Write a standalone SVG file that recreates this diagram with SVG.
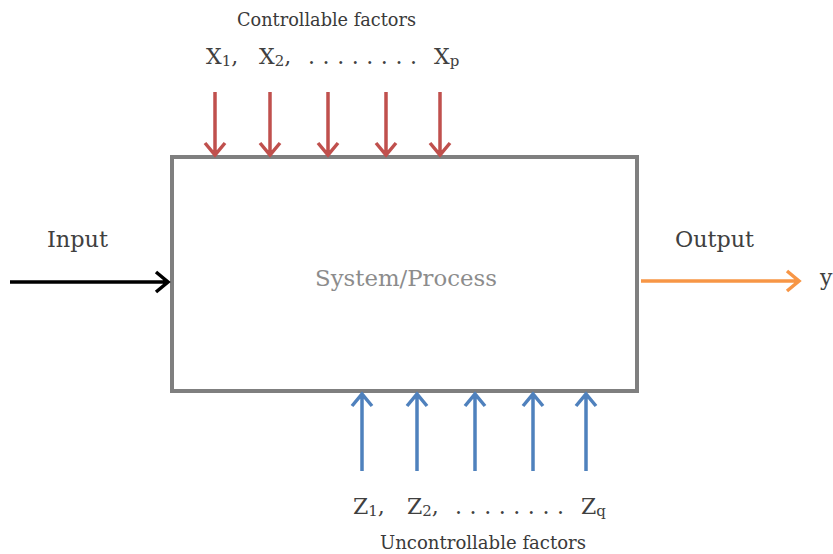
<svg xmlns="http://www.w3.org/2000/svg" width="833" height="554" viewBox="0 0 833 554">
<style>
text{font-family:"DejaVu Serif","Liberation Serif",serif;fill:#404040}
.lbl{font-size:18px;fill:#3a3a3a}
.var{font-size:22px}
.sub{font-size:15px}
.red{stroke:#c0504d;stroke-width:3.5;fill:none}
.blue{stroke:#4f81bd;stroke-width:3.5;fill:none}
</style>
<rect width="833" height="554" fill="#fff"/>
<g id="system">
<rect x="172" y="157" width="465" height="234" fill="#fff" stroke="#7f7f7f" stroke-width="4"/>
<text x="315" y="286" font-size="22" textLength="182" lengthAdjust="spacingAndGlyphs" style="fill:#8c8c8c">System/Process</text>
</g>
<g id="controllable">
<text class="lbl" x="237" y="26" textLength="179" lengthAdjust="spacingAndGlyphs">Controllable factors</text>
<text class="var" x="206" y="64">X<tspan class="sub" dy="2">1</tspan><tspan dy="-2">,</tspan></text>
<text class="var" x="259" y="64">X<tspan class="sub" dy="2">2</tspan><tspan dy="-2">,</tspan></text>
<text class="var" x="308" y="64" textLength="109" lengthAdjust="spacing">........</text>
<text class="var" x="434" y="64">X<tspan class="sub" dy="2">p</tspan></text>
</g>
<g id="uncontrollable">
<text class="var" x="353" y="514">Z<tspan class="sub" dy="2">1</tspan><tspan dy="-2">,</tspan></text>
<text class="var" x="407" y="514">Z<tspan class="sub" dy="2">2</tspan><tspan dy="-2">,</tspan></text>
<text class="var" x="455" y="514" textLength="109" lengthAdjust="spacing">........</text>
<text class="var" x="581" y="514">Z<tspan class="sub" dy="2">q</tspan></text>
<text class="lbl" x="380" y="549" textLength="206" lengthAdjust="spacingAndGlyphs">Uncontrollable factors</text>
</g>
<g id="input"><text x="47" y="247" font-size="22" textLength="61" lengthAdjust="spacingAndGlyphs">Input</text></g>
<g id="output"><text x="675" y="247" font-size="22" textLength="79" lengthAdjust="spacingAndGlyphs">Output</text></g>
<g id="y"><text x="820" y="285" font-size="22">y</text></g>
<g id="connectors">
<g class="red">
<path d="M215 92V155M205 143L215 155L225 143"/>
<path d="M270 92V155M260 143L270 155L280 143"/>
<path d="M328 92V155M318 143L328 155L338 143"/>
<path d="M386 92V155M376 143L386 155L396 143"/>
<path d="M440 92V155M430 143L440 155L450 143"/>
</g>
<g class="blue">
<path d="M362 471V394M352 406L362 394L372 406"/>
<path d="M417 471V394M407 406L417 394L427 406"/>
<path d="M475 471V394M465 406L475 394L485 406"/>
<path d="M533 471V394M523 406L533 394L543 406"/>
<path d="M586 471V394M576 406L586 394L596 406"/>
</g>
<path d="M10 282H168M156 272L168 282L156 292" stroke="#000" stroke-width="3.5" fill="none"/>
<path d="M641 281H799M787 271L799 281L787 291" stroke="#f79646" stroke-width="3.5" fill="none"/>
</g>
</svg>
